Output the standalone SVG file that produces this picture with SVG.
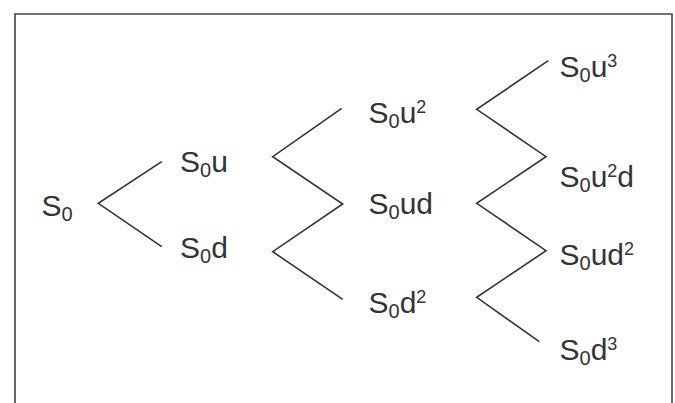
<svg xmlns="http://www.w3.org/2000/svg" width="675" height="403" viewBox="0 0 675 403">
<style>
text{font-family:"Liberation Sans",Arial,sans-serif;font-size:30px;fill:#333}
.sub{font-size:20px}
.sup{font-size:18px}
.edge{stroke:#333;stroke-width:1.6;fill:none}
</style>
<rect width="675" height="403" fill="#fff"/>
<path d="M15,403 V14 H672 V403" fill="none" stroke="#444" stroke-width="1.6"/>
<g id="connectors">
<polyline class="edge" points="161.7,161.7 98.3,203.3 161.7,246.7"/>
<polyline class="edge" points="341.7,108.3 272.7,156.7 342.7,204 272.7,251.7 342.7,299.3"/>
<polyline class="edge" points="548.3,60.7 476.7,109.3 546,156.7 476.7,203.3 546,250.7 476.7,297.3 539.3,341.7"/>
</g>
<g id="n-S0"><text x="41.5" y="216">S<tspan class="sub" dy="5">0</tspan></text></g>
<g id="n-S0u"><text x="180" y="172">S<tspan class="sub" dy="5">0</tspan><tspan dy="-5">u</tspan></text></g>
<g id="n-S0d"><text x="180" y="258">S<tspan class="sub" dy="5">0</tspan><tspan dy="-5">d</tspan></text></g>
<g id="n-S0u2"><text x="368.5" y="123">S<tspan class="sub" dy="5">0</tspan><tspan dy="-5">u</tspan><tspan class="sup" dy="-10">2</tspan></text></g>
<g id="n-S0ud"><text x="368.5" y="214">S<tspan class="sub" dy="5">0</tspan><tspan dy="-5">ud</tspan></text></g>
<g id="n-S0d2"><text x="368.5" y="313">S<tspan class="sub" dy="5">0</tspan><tspan dy="-5">d</tspan><tspan class="sup" dy="-10">2</tspan></text></g>
<g id="n-S0u3"><text x="559.5" y="77">S<tspan class="sub" dy="5">0</tspan><tspan dy="-5">u</tspan><tspan class="sup" dy="-10">3</tspan></text></g>
<g id="n-S0u2d"><text x="559.5" y="187">S<tspan class="sub" dy="5">0</tspan><tspan dy="-5">u</tspan><tspan class="sup" dy="-10">2</tspan><tspan dy="10">d</tspan></text></g>
<g id="n-S0ud2"><text x="559.5" y="265">S<tspan class="sub" dy="5">0</tspan><tspan dy="-5">ud</tspan><tspan class="sup" dy="-10">2</tspan></text></g>
<g id="n-S0d3"><text x="559.5" y="360">S<tspan class="sub" dy="5">0</tspan><tspan dy="-5">d</tspan><tspan class="sup" dy="-10">3</tspan></text></g>
</svg>
